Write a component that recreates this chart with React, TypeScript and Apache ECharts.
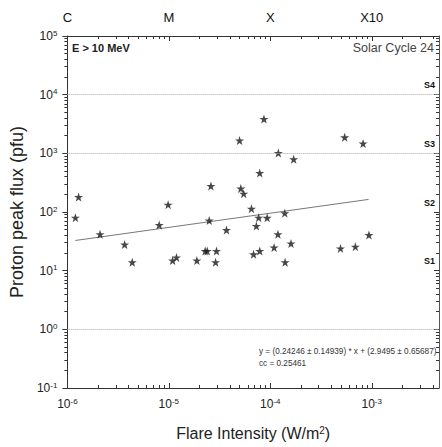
import { useEffect, useRef } from 'react';
import * as echarts from 'echarts';

// ---- data ----
const flareIntensity = [
  1.20e-6, 1.29e-6, 2.10e-6, 3.67e-6, 4.36e-6, 8.04e-6, 9.84e-6, 1.09e-5, 1.19e-5, 1.89e-5,
  2.28e-5, 2.39e-5, 2.95e-5, 2.89e-5, 2.60e-5, 2.50e-5, 3.70e-5, 4.98e-5, 5.12e-5, 5.47e-5,
  6.52e-5, 6.84e-5, 7.29e-5, 7.69e-5, 7.87e-5, 7.87e-5, 8.66e-5, 9.31e-5, 1.09e-4, 1.19e-4,
  1.20e-4, 1.39e-4, 1.40e-4, 1.60e-4, 1.70e-4, 4.92e-4, 5.41e-4, 6.89e-4, 8.21e-4, 9.38e-4,
];
const protonPeakFlux = [
  80, 180, 41.7, 27.9, 13.9, 60, 133, 14.9, 16.8, 14.9,
  21.6, 21.6, 21.6, 13.9, 277, 71.6, 49.3, 1654, 251, 205,
  113.8, 19.0, 57.7, 80, 21.6, 462, 3846, 79.6, 24.8, 41.7,
  1013, 95.3, 13.9, 29.0, 791, 23.9, 1875, 25.6, 1469, 40.5,
];
const fitX = [1.2e-6, 9.3e-4];
const fitY = [32.7, 163.9];

const xMin = 1e-6;
const xMax = 4.6e-3;
const yMin = 0.1;
const yMax = 1e5;
const xMajor = [1e-6, 1e-5, 1e-4, 1e-3];
const yMajor = [0.1, 1, 10, 100, 1000, 10000, 100000];
const topLabels = ['C', 'M', 'X', 'X10'];
const stormLabels: Record<number, string> = { 1: 'S1', 2: 'S2', 3: 'S3', 4: 'S4' };
const gridLineValues = [1, 1000, 10000];
const energyText = 'E > 10 MeV';
const cycleText = 'Solar Cycle 24';
const fitText = 'y = (0.24246 ± 0.14939) * x + (2.9495 ± 0.65687)';
const ccText = 'cc = 0.25461';

const FONT = '"Liberation Sans", Arial, sans-serif';
const AXIS_COLOR = '#333';
const TEXT_COLOR = '#222';
const STAR = 'path://M50 2 L61.8 36.2 L97.6 36.2 L68.5 57.3 L79.4 91.4 L50 70.4 L20.6 91.4 L31.5 57.3 L2.4 36.2 L38.2 36.2 Z';

function minorTicks(lo: number, hi: number) {
  const out: number[] = [];
  for (let e = Math.floor(Math.log10(lo)); e <= Math.ceil(Math.log10(hi)); e++) {
    for (let m = 2; m <= 9; m++) {
      const v = m * Math.pow(10, e);
      if (v > lo * 1.0001 && v < hi * 0.9999) out.push(v);
    }
  }
  return out;
}
const xMinor = minorTicks(xMin, xMax);
const yMinor = minorTicks(yMin, yMax);

const expOf = (v: number) => Math.round(Math.log10(v));
const isDecade = (v: number) => Math.abs(Math.log10(v) - expOf(v)) < 1e-6;
const powLabel = (v: number) => (isDecade(v) ? `{b|10}{s|${expOf(v)}}` : '');

const superRich = {
  b: { fontSize: 12, lineHeight: 14, color: TEXT_COLOR, fontFamily: FONT },
  s: { fontSize: 8, lineHeight: 6, verticalAlign: 'top', color: TEXT_COLOR, fontFamily: FONT },
};

export default function App() {
  const ref = useRef<HTMLDivElement>(null);
  useEffect(() => {
    document.body.style.margin = '0';
    if (!ref.current) return;
    const chart = echarts.init(ref.current, null, { renderer: 'svg' });
    const lineStyle = { color: AXIS_COLOR, width: 1 };
    const xBase = { type: 'log', logBase: 10, min: xMin, max: xMax, splitLine: { show: false } };
    const yBase = { type: 'log', logBase: 10, min: yMin, max: yMax, splitLine: { show: false } };
    const option: any = {
      animation: false,
      textStyle: { fontFamily: FONT },
      grid: { left: 63, right: 3, top: 36, bottom: 59, containLabel: false },
      xAxis: [
        {
          ...xBase,
          position: 'bottom',
          axisLine: { show: true, onZero: false, lineStyle },
          axisTick: { show: true, inside: true, length: 5, customValues: xMajor, lineStyle },
          axisLabel: { show: true, margin: 9, formatter: powLabel, rich: superRich, customValues: xMajor },
          name: 'Flare Intensity (W/m{s|2})',
          nameLocation: 'middle',
          nameGap: 37,
          nameTextStyle: {
            fontSize: 16, color: TEXT_COLOR, fontFamily: FONT,
            rich: { s: { fontSize: 10, lineHeight: 8, verticalAlign: 'top', color: TEXT_COLOR, fontFamily: FONT } },
          },
        },
        {
          ...xBase,
          position: 'bottom',
          axisLine: { show: false },
          axisTick: { show: true, inside: true, length: 3, customValues: xMinor, lineStyle },
          axisLabel: { show: false },
        },
        {
          ...xBase,
          position: 'top',
          axisLine: { show: true, onZero: false, lineStyle },
          axisTick: { show: true, inside: true, length: 5, customValues: xMajor, lineStyle },
          axisLabel: {
            show: true, margin: 12, fontSize: 13, color: '#111', fontFamily: FONT,
            customValues: xMajor,
            formatter: (v: number) => (isDecade(v) ? topLabels[expOf(v) + 6] ?? '' : ''),
          },
        },
        {
          ...xBase,
          position: 'top',
          axisLine: { show: false },
          axisTick: { show: true, inside: true, length: 3, customValues: xMinor, lineStyle },
          axisLabel: { show: false },
        },
      ],
      yAxis: [
        {
          ...yBase,
          position: 'left',
          axisLine: { show: true, onZero: false, lineStyle },
          axisTick: { show: true, inside: false, length: 5, customValues: yMajor, lineStyle },
          axisLabel: { show: true, margin: 10, formatter: powLabel, rich: superRich, customValues: yMajor },
          name: 'Proton peak flux (pfu)',
          nameLocation: 'middle',
          nameGap: 35,
          nameTextStyle: { fontSize: 18, color: TEXT_COLOR, fontFamily: FONT },
        },
        {
          ...yBase,
          position: 'left',
          axisLine: { show: false },
          axisTick: { show: true, inside: false, length: 3, customValues: yMinor, lineStyle },
          axisLabel: { show: false },
        },
        {
          ...yBase,
          position: 'right',
          axisLine: { show: true, onZero: false, lineStyle: { color: '#555', width: 1 } },
          axisTick: { show: true, inside: true, length: 5, customValues: yMajor, lineStyle },
          axisLabel: {
            show: true, inside: true, margin: 4, fontSize: 9, fontWeight: 'bold', color: '#111',
            fontFamily: FONT, verticalAlign: 'bottom', padding: [0, 0, 5, 0],
            customValues: yMajor,
            formatter: (v: number) => (isDecade(v) ? stormLabels[expOf(v)] ?? '' : ''),
          },
        },
        {
          ...yBase,
          position: 'right',
          axisLine: { show: false },
          axisTick: { show: true, inside: true, length: 3, customValues: yMinor, lineStyle },
          axisLabel: { show: false },
        },
      ],
      series: [
        {
          type: 'line',
          xAxisIndex: 0,
          yAxisIndex: 0,
          data: fitX.map((x, i) => [x, fitY[i]]),
          symbol: 'none',
          lineStyle: { color: '#777', width: 1 },
          z: 1,
          silent: true,
        },
        {
          type: 'scatter',
          xAxisIndex: 0,
          yAxisIndex: 0,
          data: flareIntensity.map((x, i) => [x, protonPeakFlux[i]]),
          symbol: STAR,
          symbolSize: 9,
          itemStyle: { color: '#1a1a1a' },
          z: 3,
          markLine: {
            silent: true,
            symbol: ['none', 'none'],
            label: { show: false },
            lineStyle: { type: 'dotted', color: '#aaa', width: 1 },
            data: gridLineValues.map((v) => ({ yAxis: v })),
          },
        },
      ],
      graphic: [
        { type: 'text', left: 72, top: 42, style: { text: energyText, fontSize: 11, fontWeight: 'bold', fontFamily: FONT, fill: TEXT_COLOR } },
        { type: 'text', right: 8, top: 41, style: { text: cycleText, fontSize: 12.5, fontFamily: FONT, fill: '#444' } },
        { type: 'text', left: 259, top: 347, style: { text: fitText, fontSize: 8.2, fontFamily: FONT, fill: '#333' } },
        { type: 'text', left: 259, top: 359, style: { text: ccText, fontSize: 8.2, fontFamily: FONT, fill: '#333' } },
      ],
    };
    chart.setOption(option);
    return () => chart.dispose();
  }, []);
  return <div ref={ref} style={{ width: 442, height: 447 }} />;
}
